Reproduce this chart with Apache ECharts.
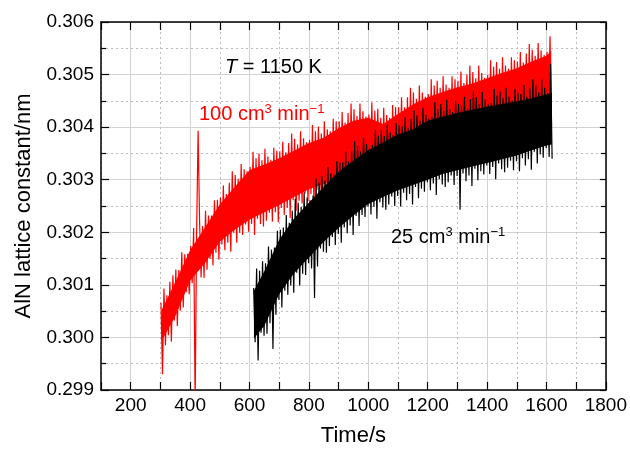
<!DOCTYPE html>
<html><head><meta charset="utf-8">
<script src="https://cdn.jsdelivr.net/npm/echarts@6/dist/echarts.min.js"></script>
<style>html,body{margin:0;padding:0;background:#fff}#c{width:630px;height:452px}</style>
</head><body><div id="c"></div>
<script>
// Sampling of the time axis (s)
const redStart = 302, redStep = 5;     // 100 cm3/min run
const blackStart = 614, blackStep = 5; // 25 cm3/min run

// AlN lattice constant (nm), 100 cm3 min-1 (noisy trace, extremes)
const red100 = [
0.30066,0.29930,0.30093,0.29985,0.30080,0.30004,0.30106,0.29992,0.30118,0.30032,
0.30129,0.30022,0.30128,0.30051,0.30162,0.30057,0.30158,0.30086,0.30159,0.30082,
0.30174,0.30103,0.30208,0.29870,0.30203,0.30393,0.30218,0.30114,0.30212,0.30113,
0.30241,0.30129,0.30232,0.30149,0.30232,0.30137,0.30261,0.30161,0.30262,0.30148,
0.30266,0.30177,0.30289,0.30166,0.30273,0.30180,0.30294,0.30163,0.30316,0.30199,
0.30309,0.30180,0.30302,0.30199,0.30330,0.30195,0.30320,0.30215,0.30316,0.30201,
0.30324,0.30216,0.30353,0.30195,0.30341,0.30226,0.30350,0.30216,0.30337,0.30211,
0.30359,0.30222,0.30344,0.30237,0.30338,0.30220,0.30361,0.30238,0.30355,0.30219,
0.30354,0.30246,0.30372,0.30233,0.30352,0.30246,0.30370,0.30227,0.30388,0.30261,
0.30378,0.30241,0.30367,0.30260,0.30392,0.30255,0.30379,0.30274,0.30371,0.30259,
0.30376,0.30273,0.30404,0.30251,0.30392,0.30281,0.30401,0.30271,0.30388,0.30265,
0.30411,0.30276,0.30396,0.30290,0.30392,0.30272,0.30416,0.30291,0.30411,0.30271,
0.30411,0.30298,0.30429,0.30284,0.30409,0.30296,0.30427,0.30276,0.30445,0.30309,
0.30434,0.30288,0.30421,0.30306,0.30445,0.30300,0.30430,0.30318,0.30420,0.30301,
0.30424,0.30314,0.30447,0.30290,0.30431,0.30319,0.30435,0.30307,0.30418,0.30299,
0.30437,0.30309,0.30423,0.30323,0.30418,0.30305,0.30442,0.30324,0.30438,0.30304,
0.30438,0.30331,0.30457,0.30317,0.30438,0.30329,0.30457,0.30310,0.30475,0.30343,
0.30466,0.30323,0.30454,0.30341,0.30479,0.30335,0.30466,0.30353,0.30458,0.30337,
0.30463,0.30351,0.30491,0.30329,0.30479,0.30359,0.30488,0.30349,0.30475,0.30343,
0.30497,0.30353,0.30481,0.30367,0.30475,0.30349,0.30497,0.30367,0.30491,0.30347,
0.30488,0.30373,0.30506,0.30359,0.30484,0.30371,0.30500,0.30351,0.30517,0.30383,
0.30505,0.30362,0.30493,0.30380,0.30517,0.30374,0.30503,0.30392,0.30494,0.30376,
0.30499,0.30390,0.30527,0.30368,0.30515,0.30397,0.30524,0.30386,0.30511,0.30380,
0.30533,0.30390,0.30517,0.30404,0.30511,0.30385,0.30533,0.30403,0.30527,0.30383,
0.30525,0.30408,0.30543,0.30394,0.30523,0.30405,0.30540,0.30385,0.30558,0.30418,
0.30547,0.30396,0.30536,0.30414,0.30560,0.30408,0.30546,0.30426,0.30537,0.30409,
0.30543,0.30423,0.30573,0.30403
];

// AlN lattice constant (nm), 25 cm3 min-1 (noisy trace, extremes)
const black25 = [
0.30094,0.29991,0.30131,0.29956,0.30127,0.30009,0.30145,0.30003,0.30141,0.30007,
0.30173,0.30027,0.30167,0.29978,0.30171,0.30043,0.30203,0.30071,0.30205,0.30057,
0.30209,0.30089,0.30233,0.30081,0.30218,0.30099,0.30241,0.30085,0.30264,0.30123,
0.30256,0.30099,0.30248,0.30121,0.30276,0.30119,0.30266,0.30141,0.30261,0.30131,
0.30270,0.30075,0.30302,0.30135,0.30294,0.30169,0.30307,0.30163,0.30298,0.30161,
0.30324,0.30174,0.30312,0.30191,0.30310,0.30176,0.30335,0.30197,0.30333,0.30180,
0.30333,0.30209,0.30353,0.30198,0.30334,0.30213,0.30353,0.30195,0.30373,0.30231,
0.30364,0.30212,0.30354,0.30233,0.30380,0.30229,0.30368,0.30249,0.30360,0.30234,
0.30366,0.30248,0.30395,0.30226,0.30384,0.30257,0.30394,0.30247,0.30383,0.30243,
0.30405,0.30253,0.30390,0.30268,0.30385,0.30250,0.30408,0.30269,0.30403,0.30249,
0.30401,0.30275,0.30419,0.30261,0.30398,0.30273,0.30415,0.30253,0.30432,0.30286,
0.30422,0.30265,0.30412,0.30283,0.30437,0.30277,0.30424,0.30295,0.30416,0.30280,
0.30420,0.30293,0.30448,0.30271,0.30435,0.30301,0.30444,0.30291,0.30431,0.30286,
0.30452,0.30295,0.30435,0.30308,0.30429,0.30290,0.30450,0.30307,0.30444,0.30243,
0.30441,0.30312,0.30458,0.30297,0.30436,0.30308,0.30453,0.30288,0.30469,0.30321,
0.30457,0.30299,0.30444,0.30316,0.30467,0.30310,0.30453,0.30327,0.30443,0.30311,
0.30446,0.30324,0.30473,0.30301,0.30460,0.30331,0.30468,0.30320,0.30455,0.30314,
0.30475,0.30323,0.30458,0.30336,0.30451,0.30318,0.30472,0.30335,0.30466,0.30316,
0.30463,0.30341,0.30480,0.30327,0.30458,0.30339,0.30474,0.30319,0.30491,0.30353,
0.30479,0.30331,0.30466,0.30348,0.30490,0.30342,0.30475,0.30360,0.30465,0.30343,
0.30520,0.30340
];

// Dense core of each noisy trace (where the trace fills solidly), nm
const redBandTime = [304,350,400,450,500,550,600,650,700,750,800,850,900,950,1000,1050,1100,1150,1200,1250,1300,1350,1400,1450,1500,1550,1600,1616];
const redBandLow  = [0.29993,0.30040,0.30108,0.30141,0.30182,0.30205,0.30224,0.30238,0.30252,0.30267,0.30282,0.30292,0.30304,0.30315,0.30324,0.30325,0.30337,0.30349,0.30360,0.30370,0.30380,0.30389,0.30399,0.30407,0.30415,0.30423,0.30432,0.30438];
const redBandHigh = [0.30052,0.30105,0.30166,0.30209,0.30253,0.30286,0.30318,0.30329,0.30341,0.30355,0.30370,0.30380,0.30398,0.30412,0.30418,0.30406,0.30425,0.30443,0.30457,0.30467,0.30476,0.30483,0.30493,0.30503,0.30512,0.30525,0.30536,0.30545];
const blackBandTime = [615,650,700,750,800,850,900,950,1000,1050,1100,1150,1200,1250,1300,1350,1400,1450,1500,1550,1600,1618];
const blackBandLow  = [0.29998,0.30022,0.30082,0.30122,0.30152,0.30182,0.30208,0.30232,0.30254,0.30267,0.30280,0.30290,0.30300,0.30311,0.30318,0.30325,0.30332,0.30339,0.30346,0.30356,0.30365,0.30367];
const blackBandHigh = [0.30089,0.30126,0.30186,0.30226,0.30256,0.30286,0.30315,0.30336,0.30356,0.30371,0.30386,0.30396,0.30412,0.30420,0.30427,0.30433,0.30439,0.30444,0.30449,0.30455,0.30462,0.30465];

const xTickLabels = ['200','400','600','800','1000','1200','1400','1600','1800'];
const yTickLabels = ['0.299','0.300','0.301','0.302','0.303','0.304','0.305','0.306'];

function toPairs(start, step, vals) { return vals.map((v, i) => [start + i * step, v]); }

function bandSeries(name, times, lows, highs, color, z) {
  return {
    name: name, type: 'custom', xAxisIndex: 0, yAxisIndex: 0, z: z, silent: true,
    data: [[times[0], lows[0]]],
    renderItem: function (params, api) {
      const pts = [];
      for (let i = 0; i < times.length; i++) pts.push(api.coord([times[i], highs[i]]));
      for (let i = times.length - 1; i >= 0; i--) pts.push(api.coord([times[i], lows[i]]));
      return { type: 'polygon', shape: { points: pts }, style: { fill: color } };
    }
  };
}

const F = '"Liberation Sans", Arial, Helvetica, sans-serif';
const solidGrid = '#d2d2d2', dotGrid = '#bcbcbc', clear = 'rgba(0,0,0,0)';
const axisLine = { show: true, onZero: false, lineStyle: { color: '#000', width: 1.5 } };

const chart = echarts.init(document.getElementById('c'), null, { renderer: 'canvas' });
chart.setOption({
  animation: false,
  grid: { left: 101, right: 21, top: 22, bottom: 55 },
  xAxis: [
    {
      type: 'value', min: 100, max: 1800, interval: 100, position: 'bottom',
      axisLine: axisLine,
      axisTick: { inside: true, length: 8, lineStyle: { color: '#000', width: 1.2 } },
      axisLabel: {
        formatter: v => xTickLabels.includes(String(v)) ? String(v) : '',
        fontSize: 19, color: '#000', fontFamily: F, margin: 6
      },
      splitLine: { show: true, lineStyle: { color: [clear, solidGrid], width: 1 } },
      name: 'Time/s', nameLocation: 'middle', nameGap: 35,
      nameTextStyle: { fontSize: 22, color: '#000', fontFamily: F }
    },
    {
      type: 'value', min: 100, max: 1800, interval: 100, position: 'top',
      axisLine: axisLine,
      axisTick: { inside: true, length: 8, lineStyle: { color: '#000', width: 1.2 } },
      axisLabel: { show: false },
      splitLine: { show: true, lineStyle: { color: [dotGrid, clear], width: 1, type: [2, 3] } }
    }
  ],
  yAxis: [
    {
      type: 'value', min: 0.299, max: 0.306, interval: 0.001, position: 'left',
      axisLine: axisLine,
      axisTick: { inside: true, length: 8, lineStyle: { color: '#000', width: 1.2 } },
      minorTick: { show: true, splitNumber: 2, length: 5, lineStyle: { color: '#000', width: 1.2 } },
      axisLabel: {
        formatter: v => { const s = v.toFixed(3); return yTickLabels.includes(s) ? s : ''; },
        fontSize: 19, color: '#000', fontFamily: F, margin: 7
      },
      splitLine: { show: true, lineStyle: { color: solidGrid, width: 1 } },
      minorSplitLine: { show: true, lineStyle: { color: dotGrid, width: 1, type: [2, 3] } },
      name: 'AlN lattice constant/nm', nameLocation: 'middle', nameGap: 66,
      nameTextStyle: { fontSize: 22, color: '#000', fontFamily: F }
    },
    {
      type: 'value', min: 0.299, max: 0.306, interval: 0.001, position: 'right',
      axisLine: axisLine,
      axisTick: { inside: true, length: 6, lineStyle: { color: '#000', width: 1.2 } },
      minorTick: { show: true, splitNumber: 2, length: 5, lineStyle: { color: '#000', width: 1.2 } },
      axisLabel: { show: false },
      splitLine: { show: false }
    }
  ],
  series: [
    bandSeries('100 core', redBandTime, redBandLow, redBandHigh, '#ff0000', 2),
    {
      name: '100 cm3 min-1', type: 'line', xAxisIndex: 0, yAxisIndex: 0,
      data: toPairs(redStart, redStep, red100),
      showSymbol: false, symbol: 'none', lineStyle: { color: '#ff0000', width: 1.2 }, z: 3
    },
    bandSeries('25 core', blackBandTime, blackBandLow, blackBandHigh, '#000000', 4),
    {
      name: '25 cm3 min-1', type: 'line', xAxisIndex: 0, yAxisIndex: 0,
      data: toPairs(blackStart, blackStep, black25),
      showSymbol: false, symbol: 'none', lineStyle: { color: '#000000', width: 1.2 }, z: 5
    }
  ],
  graphic: [
    {
      type: 'text', x: 225, y: 67, z: 10,
      style: {
        text: '{i|T}{n| = 1150 K}', textVerticalAlign: 'middle', verticalAlign: 'middle',
        rich: {
          i: { fontSize: 20, fontStyle: 'italic', fontFamily: F, fill: '#000' },
          n: { fontSize: 20, fontFamily: F, fill: '#000' }
        }
      }
    },
    {
      type: 'text', x: 199, y: 114, z: 10,
      style: {
        text: '{n|100 cm}{s|3}{n| min}{s|\u22121}', textVerticalAlign: 'middle', verticalAlign: 'middle',
        rich: {
          n: { fontSize: 20, fontFamily: F, fill: '#ff0000', lineHeight: 22 },
          s: { fontSize: 13, fontFamily: F, fill: '#ff0000', verticalAlign: 'top', lineHeight: 13 }
        }
      }
    },
    {
      type: 'text', x: 391, y: 237, z: 10,
      style: {
        text: '{n|25 cm}{s|3}{n| min}{s|\u22121}', textVerticalAlign: 'middle', verticalAlign: 'middle',
        rich: {
          n: { fontSize: 20, fontFamily: F, fill: '#000', lineHeight: 22 },
          s: { fontSize: 13, fontFamily: F, fill: '#000', verticalAlign: 'top', lineHeight: 13 }
        }
      }
    }
  ]
});
</script></body></html>
